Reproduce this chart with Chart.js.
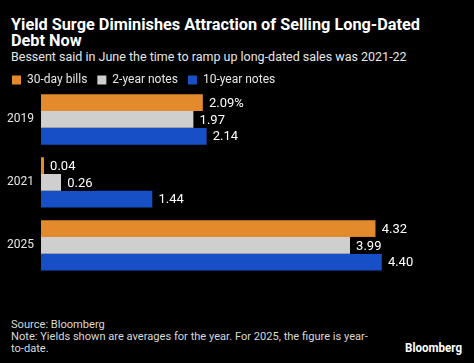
<!DOCTYPE html>
<html>
<head>
<meta charset="utf-8">
<script src="https://cdn.jsdelivr.net/npm/chart.js@4"></script>
<style>
  html, body { margin: 0; padding: 0; background: #000; }
  body { width: 474px; height: 363px; position: relative; overflow: hidden; font-family: Roboto, "Liberation Sans", sans-serif; color: #fff; }
  #title { position: absolute; left: 11px; top: 17px; font-weight: bold; font-size: 16.3px; line-height: 16px; width: 430px; }
  #subtitle { position: absolute; left: 11px; top: 49px; font-size: 12.5px; line-height: 15px; color: #e6e6e6; }
  #wrap { position: absolute; left: -3px; top: 64px; width: 477px; height: 227px; }
  #foot { position: absolute; left: 11px; top: 318px; font-size: 11.5px; line-height: 12px; color: #d9d9d9; width: 460px; transform: scaleX(0.965); transform-origin: 0 0; white-space: nowrap; }
  #logo { position: absolute; left: 405px; top: 340px; font-weight: bold; font-size: 13px; color: #fff; transform: scaleX(0.89); transform-origin: 0 0; white-space: nowrap; }
</style>
</head>
<body>
<div id="title">Yield Surge Diminishes Attraction of Selling Long-Dated Debt Now</div>
<div id="subtitle">Bessent said in June the time to ramp up long-dated sales was 2021-22</div>
<div id="wrap"><canvas id="c"></canvas></div>
<div id="foot">Source: Bloomberg<br>Note: Yields shown are averages for the year. For 2025, the figure is year-<br>to-date.</div>
<div id="logo">Bloomberg</div>
<script>
const categories = ["2019", "2021", "2025"];
const seriesNames = ["30-day bills", "2-year notes", "10-year notes"];
const bills30 = [2.09, 0.04, 4.32];
const notes2 = [1.97, 0.26, 3.99];
const notes10 = [2.14, 1.44, 4.40];
const colors = ["#E38B2C", "#CFCFCF", "#1750C6"];
const FONT = 'Roboto, "Liberation Sans", sans-serif';

const valueLabels = {
  id: 'valueLabels',
  afterDatasetsDraw(chart) {
    const ctx = chart.ctx;
    ctx.save();
    ctx.font = '13px ' + FONT;
    ctx.textBaseline = 'middle';
    chart.data.datasets.forEach((ds, di) => {
      const meta = chart.getDatasetMeta(di);
      meta.data.forEach((bar, i) => {
        let txt = ds.data[i].toFixed(2);
        if (di === 0 && i === 0) txt += '%';
        const x = bar.x + 6;
        const w = ctx.measureText(txt).width;
        ctx.fillStyle = '#000';
        ctx.fillRect(bar.x, bar.y - bar.height / 2, w + 10, bar.height);
        ctx.fillStyle = '#fff';
        ctx.fillText(txt, x, bar.y + 1);
      });
    });
    ctx.restore();
  }
};

const legendSpacing = {
  id: 'legendSpacing',
  beforeInit(chart) {
    const origFit = chart.legend.fit;
    chart.legend.fit = function () {
      origFit.call(this);
      this.height -= 8;
    };
  }
};

new Chart(document.getElementById('c'), {
  type: 'bar',
  data: {
    labels: categories,
    datasets: [
      { label: seriesNames[0], data: bills30, backgroundColor: colors[0] },
      { label: seriesNames[1], data: notes2, backgroundColor: colors[1] },
      { label: seriesNames[2], data: notes10, backgroundColor: colors[2] }
    ]
  },
  options: {
    indexAxis: 'y',
    responsive: true,
    maintainAspectRatio: false,
    animation: false,
    datasets: { bar: { categoryPercentage: 0.8, barPercentage: 1.0, borderWidth: 0 } },
    layout: { padding: { left: 5, right: 10, top: 0, bottom: 7 } },
    plugins: {
      legend: {
        align: 'start',
        labels: {
          color: '#e6e6e6',
          boxWidth: 9, boxHeight: 9,
          padding: 10,
          font: { size: 12, family: FONT }
        }
      },
      tooltip: { enabled: false }
    },
    scales: {
      x: { display: false, min: 0, max: 5.46 },
      y: {
        grid: { display: false, drawTicks: false },
        border: { display: false },
        ticks: { color: '#e6e6e6', padding: 7, font: { size: 12, family: FONT } },
        afterFit: (s) => { s.width = 39; }
      }
    }
  },
  plugins: [valueLabels, legendSpacing]
});
</script>
</body>
</html>
